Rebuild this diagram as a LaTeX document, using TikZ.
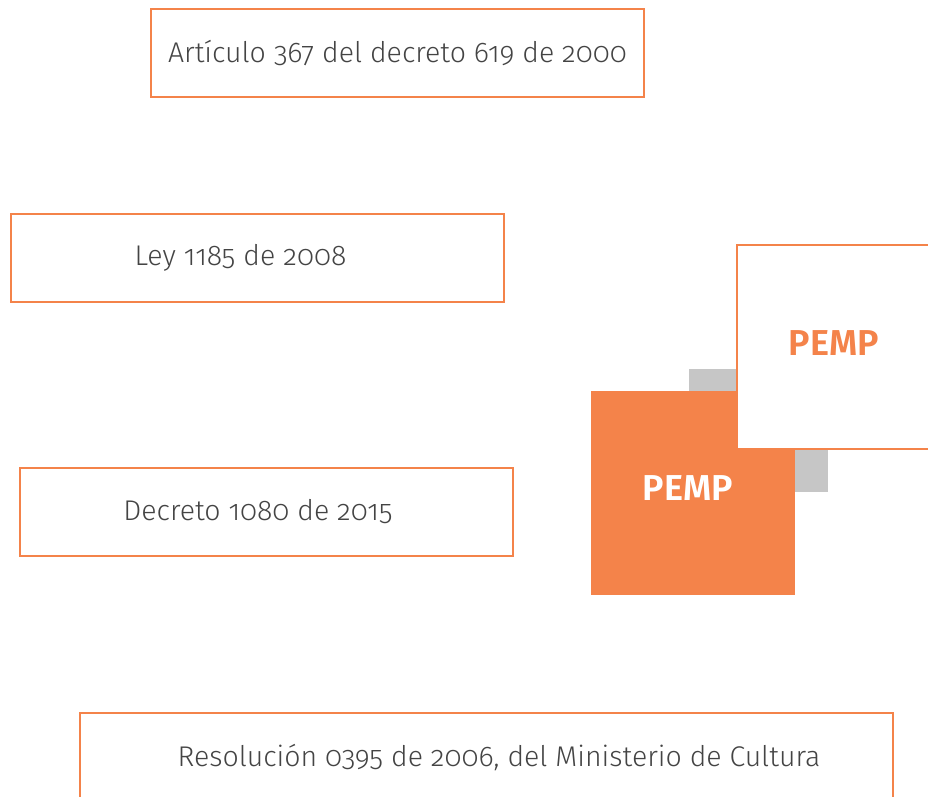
\documentclass[tikz,border=0pt]{standalone}
\usepackage{fontspec}
\setmainfont{Fira Sans}[UprightFont=* Light, BoldFont=* SemiBold, Numbers=OldStyle]
\usepackage{tikz}
\usetikzlibrary{positioning, calc}

\definecolor{pemporange}{HTML}{F4834A}
\definecolor{pempgray}{HTML}{C6C6C6}
\definecolor{normtext}{HTML}{444444}

\begin{document}
\begin{tikzpicture}[
        norm_box/.style={draw=pemporange, line width=1.6pt, rectangle, minimum width=9.86cm, minimum height=1.76cm,
            inner sep=0pt, font=\fontsize{16.2}{18}\selectfont, text=normtext},
        text_shift/.style={execute at begin node={\hspace*{#1}}},
        pemp_label/.style={font=\fontsize{20.5}{22}\selectfont\bfseries}]

        % page frame
        \useasboundingbox (0,0) rectangle (18.56,-15.92);
        \clip (0,0) rectangle (18.56,-15.92);

        % Legal norms
        \node[norm_box] (articulo) at (7.95,-1.06) {Artículo 367 del decreto 619 de 2000};
        \node[norm_box, text_shift=-0.68cm] (ley) at (5.15,-5.16) {Ley 1185 de 2008};
        \node[norm_box, text_shift=-0.34cm] (decreto) at (5.33,-10.24) {Decreto 1080 de 2015};
        \node[norm_box, text_shift=0.5cm, minimum width=16.26cm] (resolucion) at (9.73,-15.14) {Resolución 0395 de 2006, del Ministerio de Cultura};

        % PEMP squares (gray one drawn first, behind)
        \node[fill=pempgray, rectangle, inner sep=0pt, minimum width=2.78cm, minimum height=2.46cm] (shadow) at (15.17,-8.61) {};
        \node[fill=pemporange, rectangle, minimum size=4.08cm] (pemp_fill) at (13.86,-9.86) {};
        \node[pemp_label, text=white] (pemp_fill_text) at ([xshift=-0.1cm, yshift=0.1cm]pemp_fill.center) {PEMP};
        \node[draw=pemporange, fill=white, line width=1.6pt, rectangle, minimum size=4.08cm] (pemp_line) at (16.78,-6.94) {};
        \node[pemp_label, text=pemporange] (pemp_line_text) at ([xshift=-0.1cm, yshift=0.08cm]pemp_line.center) {PEMP};
    \end{tikzpicture}
\end{document}
